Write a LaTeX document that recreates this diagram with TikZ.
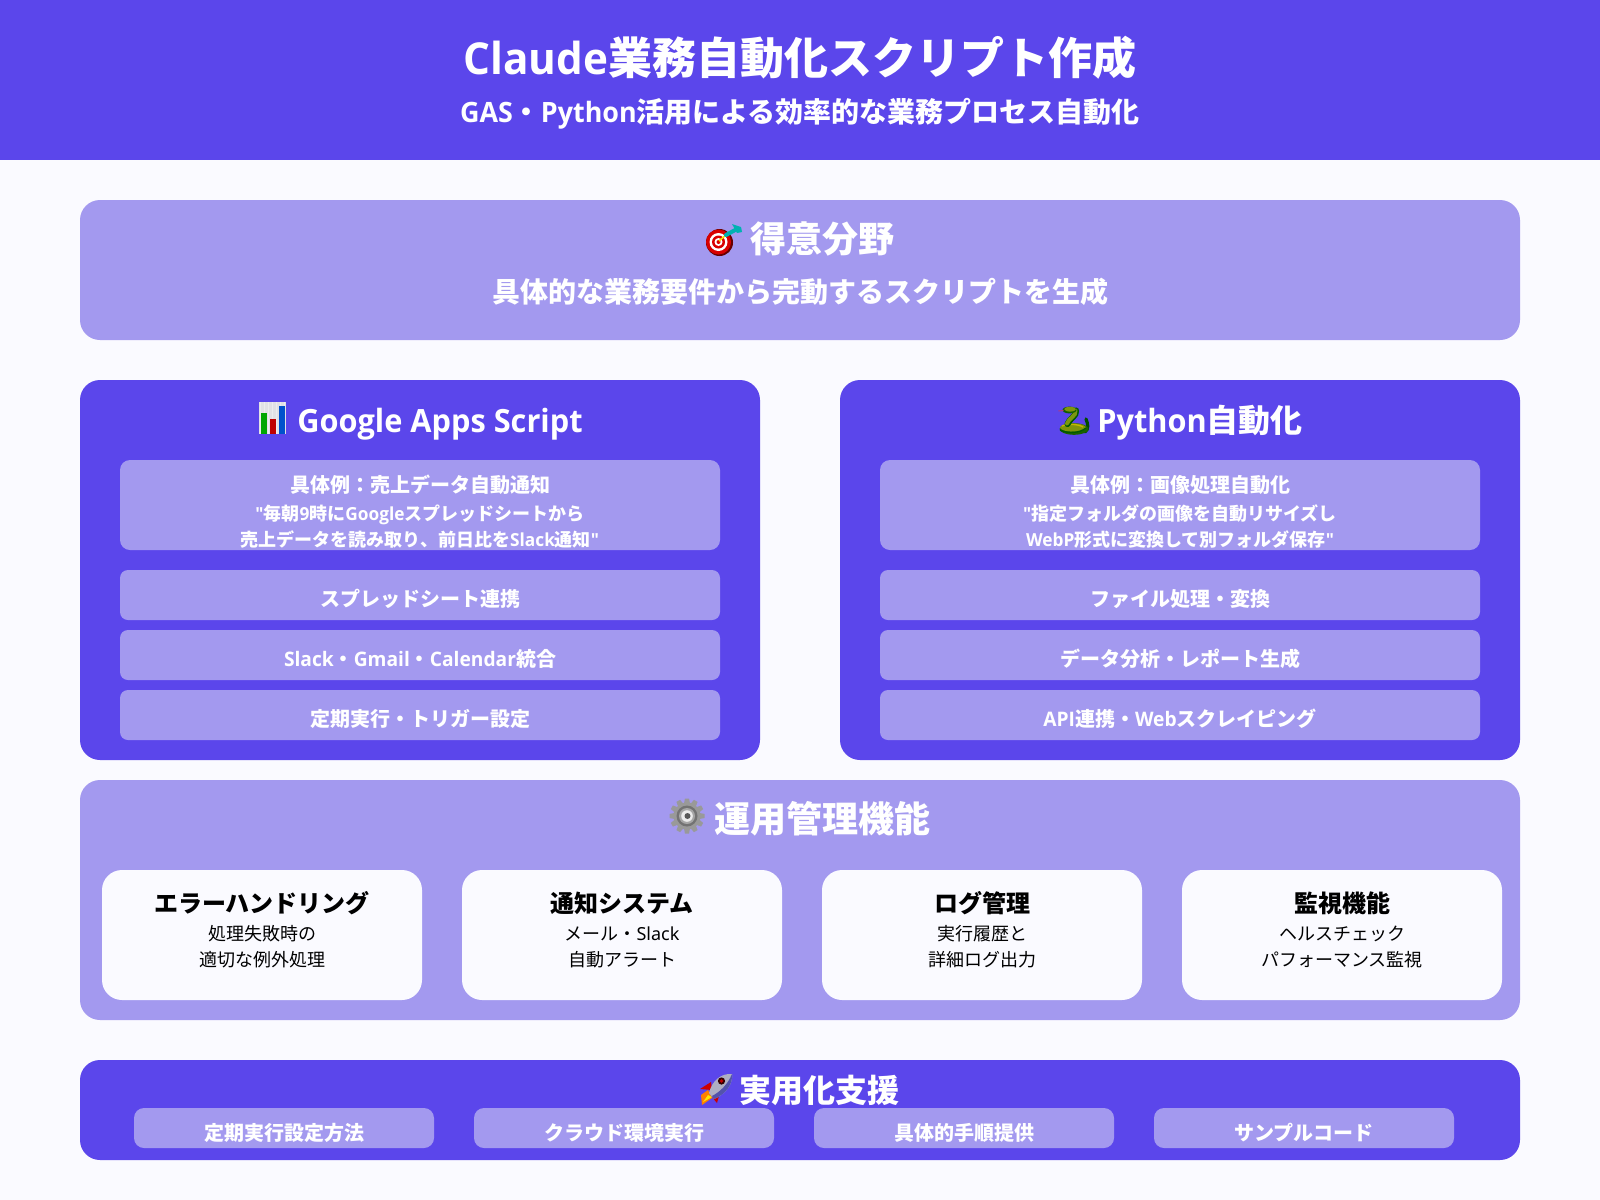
\documentclass[tikz,border=0pt]{standalone}
\usepackage{fontspec}
\setmainfont{Noto Sans CJK JP}
\newfontfamily\latf{Noto Sans}
\newfontfamily\latb{Open Sans}[FakeStretch=0.96]
\newfontfamily\emo{Noto Emoji}
\newcommand\lt[1]{{\latf #1}}
\newcommand\lb[1]{{\latb\bfseries #1}}
\newcommand\fsz[1]{\pgfmathsetlengthmacro\myfs{#1*0.75pt}\fontsize{\myfs}{\myfs}\selectfont}
\definecolor{deep}{HTML}{5B46EB}
\definecolor{soft}{HTML}{A399EF}
\definecolor{paper}{HTML}{FAFAFF}
\tikzset{
  panel/.style={inner sep=0pt,draw=none,fill=#1},
  lab/.style={anchor=base,inner sep=0pt,text=white,font=\bfseries},
}
% name, x0, y0, x1, y1, radius, colour
\newcommand\pbox[7]{\node[panel=#7,rounded corners=#6*0.75pt,minimum width={(#4-#2)*0.75pt},minimum height={(#5-#3)*0.75pt}] (#1) at ({(#2+#4)/2},{(#3+#5)/2}) {};}
% name, cx, cy, size, text
\newcommand\btxt[5]{\node[lab] (#1) at (#2,{#3+0.38*#4}) {\fsz{#4}\bfseries #5};}
\newcommand\dtxt[5]{\node[anchor=base,inner sep=0pt,text=black] (#1) at (#2,{#3+0.38*#4}) {\fsz{#4}#5};}
\newcommand\ktxt[5]{\node[anchor=base,inner sep=0pt,text=black] (#1) at (#2,{#3+0.38*#4}) {\fsz{#4}\bfseries #5};}
\begin{document}
\begin{tikzpicture}[x=0.75pt,y=-0.75pt]
\useasboundingbox (0,0) rectangle (1600,1200);
\fill[paper] (0,0) rectangle (1600,1200);
\fill[deep] (0,0) rectangle (1600,160);
\btxt{title}{800}{58}{44}{\lb{Claude}業務自動化スクリプト作成}
\btxt{subtitle}{800}{112}{28}{\lb{GAS}・\lb{Python}活用による効率的な業務プロセス自動化}

% strength panel
\pbox{strength}{80}{200}{1520}{340}{20}{soft}
\btxt{strengthT}{822}{239}{36}{得意分野}
\btxt{strengthS}{800}{292}{28}{具体的な業務要件から完動するスクリプトを生成}
% target icon
\fill[black!60!red] (719.5,242.5) circle (13.5);
\fill[red!85!black] (718.5,242) circle (12.5);
\fill[white] (718.5,242) circle (9);
\fill[red!85!black] (718.5,242) circle (6.5);
\fill[white] (718.5,242) circle (4);
\fill[red!85!black] (718.5,242) circle (2);
\draw[yellow!80!orange,line width=1.2] (719,241) -- (727,234);
\draw[teal!60!cyan,line width=3,line cap=round] (726,235) -- (737,229);
\fill[teal!60!cyan] (732,224) -- (741,227) -- (742,232) -- (737,233) -- cycle;
\node[anchor=center,inner sep=0pt,text=red!30!black,opacity=0] (iconA) at (724,238) {\fsz{30}\emo 🎯};

% GAS
\pbox{gas}{80}{380}{760}{760}{20}{deep}
\btxt{gasT}{440}{420}{32}{\lb{Google Apps Script}}
\fill[blue!8!gray!22] (259,402) rectangle (286,434);
\draw[white!60!blue!10!gray!15,line width=0.4,step=4] (259,402) grid (286,434);
\fill[green!65!black] (261,413) rectangle (267,434);
\fill[red!75!black] (270,419) rectangle (276,434);
\fill[blue!60!cyan!80!black] (279,406) rectangle (285,434);
\node[anchor=center,inner sep=0pt,text=white,opacity=0] (iconB) at (272,418) {\fsz{30}\emo 📊};
\pbox{gasEx}{120}{460}{720}{550}{10}{soft}
\btxt{gasExA}{420}{485}{20}{具体例：売上データ自動通知}
\btxt{gasExB}{420}{514}{18}{\lb{"}毎朝\lb{9}時に\lb{Google}スプレッドシートから}
\btxt{gasExC}{420}{540}{18}{売上データを読み取り、前日比を\lb{Slack}通知\lb{"}}
\pbox{gasA}{120}{570}{720}{620}{8}{soft}
\btxt{gasAt}{420}{599}{20}{スプレッドシート連携}
\pbox{gasB}{120}{630}{720}{680}{8}{soft}
\btxt{gasBt}{420}{659}{20}{\lb{Slack}・\lb{Gmail}・\lb{Calendar}統合}
\pbox{gasC}{120}{690}{720}{740}{8}{soft}
\btxt{gasCt}{420}{719}{20}{定期実行・トリガー設定}

% Python
\pbox{py}{840}{380}{1520}{760}{20}{deep}
\btxt{pyT}{1200}{420}{32}{\lb{Python}自動化}
% snake icon
\draw[green!30!black,line width=2.4,line cap=round] (1085,432) .. controls (1089,429) and (1088,424) .. (1086,419);
\fill[green!35!black!80!olive] (1074,429) ellipse (14.5 and 5.8);
\fill[olive!75!green] (1073,427.5) ellipse (13 and 4.2);
\draw[green!35!black,line width=1] (1060,430) .. controls (1068,434) and (1080,433) .. (1086,428);
\draw[olive!55!yellow,line width=1] (1062,426) .. controls (1068,423.5) and (1078,424) .. (1083,427);
\draw[green!35!black,line width=4.6,line cap=round] (1067.5,424) .. controls (1069,419) and (1077,416) .. (1076,410.5);
\draw[olive!70!green,line width=3,line cap=round] (1067,423.5) .. controls (1068.5,418.5) and (1076.5,416) .. (1075.5,410.5);
\fill[green!35!black!85!olive] (1069.5,410) ellipse (7 and 3.4);
\fill[olive!75!green] (1070,409.2) ellipse (5.8 and 2.4);
\draw[magenta!70!black,line width=0.8] (1063.5,410.5) -- (1058.5,411);
\node[anchor=center,inner sep=0pt,text=white,opacity=0] (iconC) at (1073,420) {\fsz{30}\emo 🐍};
\pbox{pyEx}{880}{460}{1480}{550}{10}{soft}
\btxt{pyExA}{1180}{485}{20}{具体例：画像処理自動化}
\btxt{pyExB}{1180}{514}{18}{\lb{"}指定フォルダの画像を自動リサイズし}
\btxt{pyExC}{1180}{540}{18}{\lb{WebP}形式に変換して別フォルダ保存\lb{"}}
\pbox{pyA}{880}{570}{1480}{620}{8}{soft}
\btxt{pyAt}{1180}{599}{20}{ファイル処理・変換}
\pbox{pyB}{880}{630}{1480}{680}{8}{soft}
\btxt{pyBt}{1180}{659}{20}{データ分析・レポート生成}
\pbox{pyC}{880}{690}{1480}{740}{8}{soft}
\btxt{pyCt}{1180}{719}{20}{\lb{API}連携・\lb{Web}スクレイピング}

% operations
\pbox{ops}{80}{780}{1520}{1020}{20}{soft}
\btxt{opsT}{822}{819}{36}{運用管理機能}
\foreach \a in {0,30,...,330}{
  \fill[gray!80,rotate around={\a:(687,816)}] (683.8,805) -- (684.9,798.5) -- (689.1,798.5) -- (690.2,805) -- cycle;
}
\fill[gray!80] (687,816) circle (13.5);
\fill[gray!90!black] (687,816) circle (10.5);
\fill[gray!70] (687,816) circle (8);
\fill[white!85!gray] (687,816) circle (5.8);
\fill[gray!70!black] (687.5,816) circle (3);
\node[anchor=center,inner sep=0pt,text=white,opacity=0] (iconD) at (687,816) {\fsz{30}\emo ⚙};
\pbox{opA}{102}{870}{422}{1000}{20}{paper}
\ktxt{opAt}{262}{903}{24}{エラーハンドリング}
\dtxt{opAa}{262}{934}{18}{処理失敗時の}
\dtxt{opAb}{262}{960}{18}{適切な例外処理}
\pbox{opB}{462}{870}{782}{1000}{20}{paper}
\ktxt{opBt}{622}{903}{24}{通知システム}
\dtxt{opBa}{622}{934}{18}{メール・\lt{Slack}}
\dtxt{opBb}{622}{960}{18}{自動アラート}
\pbox{opC}{822}{870}{1142}{1000}{20}{paper}
\ktxt{opCt}{982}{903}{24}{ログ管理}
\dtxt{opCa}{982}{934}{18}{実行履歴と}
\dtxt{opCb}{982}{960}{18}{詳細ログ出力}
\pbox{opD}{1182}{870}{1502}{1000}{20}{paper}
\ktxt{opDt}{1342}{903}{24}{監視機能}
\dtxt{opDa}{1342}{934}{18}{ヘルスチェック}
\dtxt{opDb}{1342}{960}{18}{パフォーマンス監視}

% support
\pbox{sup}{80}{1060}{1520}{1160}{20}{deep}
\btxt{supT}{819}{1090}{32}{実用化支援}
\fill[orange] (701,1095) -- (708,1090) -- (712,1098) -- (702,1105) -- cycle;
\fill[yellow!90!orange] (703,1102) -- (708,1095) -- (712,1097) -- cycle;
\fill[red!80!black] (700,1089) -- (711,1082) -- (712,1090) -- cycle;
\fill[red!80!black] (712,1097) -- (720,1092) -- (717,1103) -- cycle;
\fill[blue!15!gray!55] (709,1093) .. controls (712,1080) and (722,1073) .. (732,1074) .. controls (733,1084) and (726,1094) .. (714,1099) -- cycle;
\fill[blue!35!gray] (712,1096) .. controls (720,1092) and (728,1084) .. (732,1074) .. controls (733,1084) and (726,1094) .. (714,1099) -- cycle;
\fill[black!80!red] (721.5,1081) circle (3.6);
\fill[red!75!black] (721.5,1081) circle (1.8);
\node[anchor=center,inner sep=0pt,text=white,opacity=0] (iconE) at (716,1088) {\fsz{30}\emo 🚀};
\pbox{supA}{134}{1108}{434}{1148}{10}{soft}
\btxt{supAt}{284}{1133}{20}{定期実行設定方法}
\pbox{supB}{474}{1108}{774}{1148}{10}{soft}
\btxt{supBt}{624}{1133}{20}{クラウド環境実行}
\pbox{supC}{814}{1108}{1114}{1148}{10}{soft}
\btxt{supCt}{964}{1133}{20}{具体的手順提供}
\pbox{supD}{1154}{1108}{1454}{1148}{10}{soft}
\btxt{supDt}{1304}{1133}{20}{サンプルコード}
\end{tikzpicture}
\end{document}
